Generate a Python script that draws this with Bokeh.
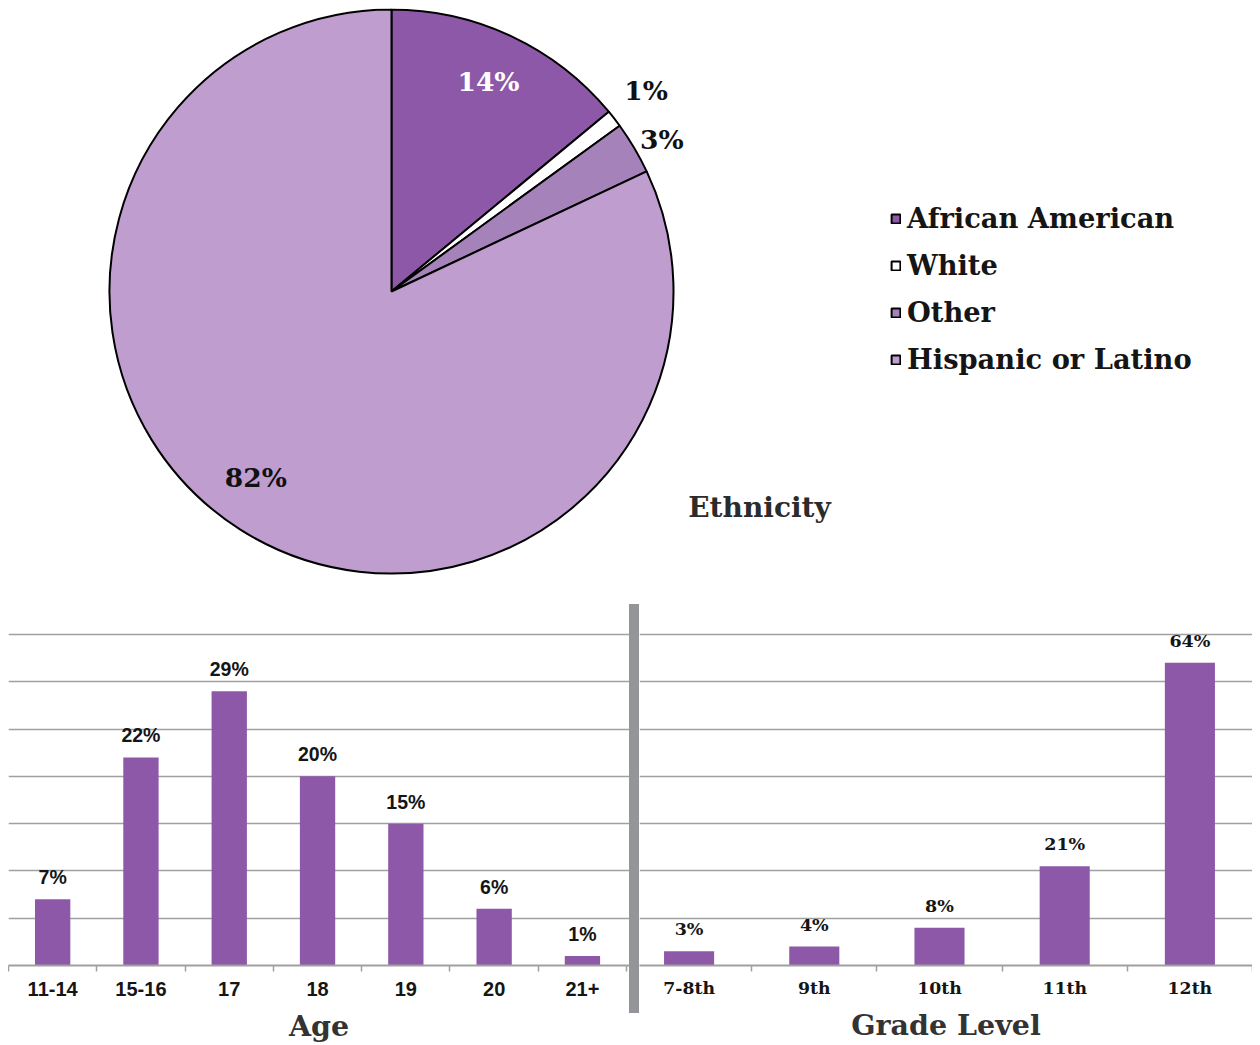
import math
from bokeh.plotting import figure
from bokeh.models import Legend, LegendItem, Label, FixedTicker, Range1d, Div
from bokeh.layouts import column, row
from bokeh.embed import file_html
from bokeh.resources import INLINE
from bokeh.core.properties import value

# ---------------- data ----------------
eth_labels = ["African American", "White", "Other", "Hispanic or Latino"]
eth_values = [14, 1, 3, 82]
eth_colors = ["#8E58A8", "#FFFFFF", "#A583BA", "#BF9DCF"]
eth_text_colors = ["#FFFFFF", "#111111", "#111111", "#111111"]
eth_label_radius = [0.82, 1.15, 1.10, 0.816]
eth_label_angle_shift = [0.4, 0.5, -1.2, -3.7]  # degrees, label placement only

age_cats = ["11-14", "15-16", "17", "18", "19", "20", "21+"]
age_vals = [7, 22, 29, 20, 15, 6, 1]
age_grid = [5, 10, 15, 20, 25, 30, 35]

grade_cats = ["7-8th", "9th", "10th", "11th", "12th"]
grade_vals = [3, 4, 8, 21, 64]
grade_grid = [10, 20, 30, 40, 50, 60, 70]

BAR = "#8E58A8"
GRID = "#A0A0A0"
SLAB = "DejaVu Serif"
SANS = "Liberation Sans Narrow, Liberation Sans"
TXT = "#151515"

# ---------------- pie ----------------
p = figure(width=1244, height=590, x_range=Range1d(-1.358, 3.053),
           y_range=Range1d(-1.0887, 1.0035), output_backend="svg",
           toolbar_location=None, min_border=0)
p.axis.visible = False
p.grid.visible = False
p.outline_line_color = None

total = float(sum(eth_values))
cum = 0.0
starts, ends, mids = [], [], []
for v in eth_values:
    a0 = math.pi / 2 - 2 * math.pi * cum / total
    cum += v
    a1 = math.pi / 2 - 2 * math.pi * cum / total
    starts.append(a0)
    ends.append(a1)
    mids.append((a0 + a1) / 2)

wr = p.wedge(x=0, y=0, radius=1.0, start_angle=starts, end_angle=ends,
             direction="clock", fill_color=eth_colors, line_color="black",
             line_width=2)

lang = [m + math.radians(s) for m, s in zip(mids, eth_label_angle_shift)]
lx = [r * math.cos(a) for r, a in zip(eth_label_radius, lang)]
ly = [r * math.sin(a) for r, a in zip(eth_label_radius, lang)]
p.text(x=lx, y=ly, text=[f"{v}%" for v in eth_values], text_color=eth_text_colors,
       text_align="center", text_baseline="middle", text_font=value(SLAB),
       text_font_style="bold", text_font_size="26.5px")

items = [LegendItem(label=lab, renderers=[wr], index=i) for i, lab in enumerate(eth_labels)]
legend = Legend(items=items, location=(882, 219), padding=0, margin=0,
                glyph_width=11, glyph_height=11, label_standoff=6,
                label_height=40, spacing=7,
                label_text_font=SLAB, label_text_font_style="bold",
                label_text_font_size="27.3px", label_text_color=TXT,
                background_fill_alpha=0, border_line_color=None)
p.add_layout(legend)

p.add_layout(Label(x=1.305, y=-0.766, text="Ethnicity", text_align="center",
                   text_baseline="middle", text_font=SLAB, text_font_style="bold",
                   text_font_size="28px", text_color="#2B2B2B"))


# ---------------- bar charts ----------------
def bar_fig(cats, vals, grid, width, xr, ytop, title, tick_font, tick_size,
            val_font, val_size, label_standoff, title_standoff):
    xs = list(range(len(cats)))
    f = figure(width=width, height=447, x_range=Range1d(*xr), y_range=Range1d(0, ytop),
               output_backend="svg", toolbar_location=None, min_border_left=0,
               min_border_right=0, min_border_top=6, min_border_bottom=80)
    f.outline_line_color = None
    f.yaxis.visible = False
    f.xgrid.visible = False
    f.ygrid.ticker = FixedTicker(ticks=grid)
    f.ygrid.grid_line_color = GRID
    f.ygrid.grid_line_width = 1.6
    f.vbar(x=xs, top=vals, width=0.4, fill_color=BAR, line_color=None)
    f.text(x=xs, y=vals, text=[f"{v}%" for v in vals], text_align="center",
           text_baseline="middle", y_offset=-22, text_font=value(val_font),
           text_font_style="bold", text_font_size=val_size, text_color=TXT)
    ax = f.xaxis[0]
    ax.ticker = FixedTicker(ticks=xs, minor_ticks=[i - 0.5 for i in range(len(cats) + 1)])
    ax.major_label_overrides = {i: c for i, c in enumerate(cats)}
    ax.major_tick_out = 0
    ax.major_tick_in = 0
    ax.minor_tick_out = 6
    ax.minor_tick_in = 0
    ax.minor_tick_line_color = GRID
    ax.minor_tick_line_width = 1.5
    ax.axis_line_color = GRID
    ax.axis_line_width = 2
    ax.major_label_standoff = label_standoff
    ax.major_label_text_font = tick_font
    ax.major_label_text_font_style = "bold"
    ax.major_label_text_font_size = tick_size
    ax.major_label_text_color = TXT
    ax.axis_label = title
    ax.axis_label_standoff = title_standoff
    ax.axis_label_text_font = SLAB
    ax.axis_label_text_font_style = "bold"
    ax.axis_label_text_font_size = "28.5px"
    ax.axis_label_text_color = "#333333"
    return f


pa = bar_fig(age_cats, age_vals, age_grid, 621, (-0.5, 6.533), 38.17, "Age",
             SANS, "20px", SANS, "19.5px", 10, 10)
pg = bar_fig(grade_cats, grade_vals, grade_grid, 613, (-0.396, 4.5), 76.34,
             "Grade Level", SLAB, "17.3px", SLAB, "17.5px", 6, 7)

sep = Div(text="", width=10, height=409, margin=(6, 0, 0, 0),
          styles={"background-color": "#949599"})

layout = column(p, row(pa, sep, pg, spacing=0), spacing=0, margin=(8, 0, 0, 8))

open("out.html", "w").write(file_html(layout, INLINE))
